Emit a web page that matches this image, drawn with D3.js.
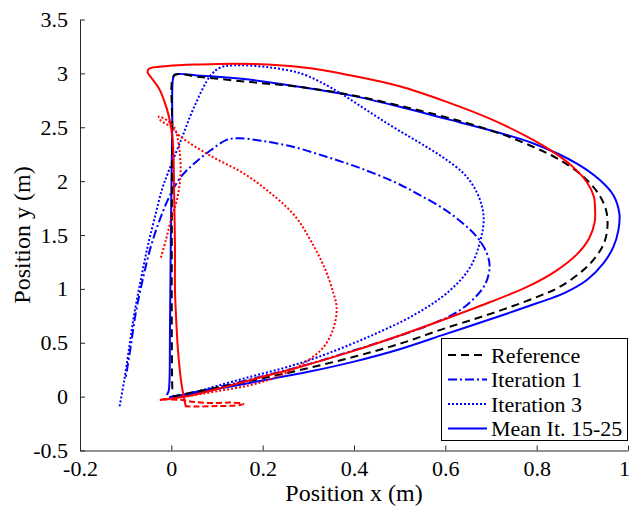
<!DOCTYPE html>
<html>
<head>
<meta charset="utf-8">
<script src="https://cdn.jsdelivr.net/npm/d3@7/dist/d3.min.js"></script>
<style>
  #chart text { font-family: 'Liberation Serif' !important; }
</style>
</head>
<body style="margin:0">
<svg id="chart" width="631" height="507"></svg>
<script>
// Axis ticks
const xTicks = [-0.2, 0, 0.2, 0.4, 0.6, 0.8, 1];
const yTicks = [-0.5, 0, 0.5, 1, 1.5, 2, 2.5, 3, 3.5];

// Reference trajectory (x, y) in metres
const reference = [
  [0.003, 0.0], [0.04, 0.035], [0.1, 0.085], [0.2, 0.17], [0.3, 0.265], [0.4, 0.37],
  [0.5, 0.49], [0.6, 0.635], [0.7, 0.77], [0.793, 0.912], [0.851, 1.02], [0.902, 1.174],
  [0.93, 1.3], [0.948, 1.43], [0.955, 1.576], [0.952, 1.73], [0.935, 1.885], [0.903, 2.039],
  [0.852, 2.194], [0.793, 2.317], [0.72, 2.441], [0.63, 2.56], [0.52, 2.68], [0.392, 2.8],
  [0.283, 2.873], [0.174, 2.919], [0.064, 2.966], [0.01, 2.99], [0.003, 2.96], [0.002, 2.5],
  [0.001, 1.5], [0.001, 0.6], [0.002, 0.1], [0.003, 0.02]
];

// Iteration 1
const iter1 = [
  [0.0, 0.0], [0.05, 0.04], [0.1, 0.085], [0.2, 0.19], [0.3, 0.3], [0.4, 0.43], [0.5, 0.565],
  [0.574, 0.68], [0.626, 0.785], [0.665, 0.92], [0.688, 1.05], [0.697, 1.205], [0.691, 1.329],
  [0.669, 1.483], [0.611, 1.7], [0.538, 1.885], [0.487, 1.995], [0.414, 2.12], [0.341, 2.224],
  [0.268, 2.317], [0.196, 2.375], [0.145, 2.398], [0.12, 2.38], [0.086, 2.286], [0.05, 2.163],
  [0.021, 2.039], [-0.001, 1.885], [-0.023, 1.668], [-0.045, 1.39], [-0.063, 1.08],
  [-0.078, 0.773], [-0.089, 0.463], [-0.096, 0.278], [-0.1, 0.17]
];

// Iteration 3
const iter3 = [
  [-0.005, -0.01], [0.05, 0.04], [0.1, 0.1], [0.174, 0.185], [0.25, 0.27], [0.32, 0.365],
  [0.429, 0.55], [0.538, 0.773], [0.611, 0.989], [0.655, 1.205], [0.677, 1.452], [0.684, 1.65],
  [0.678, 1.8], [0.662, 1.95], [0.638, 2.08], [0.595, 2.22], [0.55, 2.34], [0.506, 2.45],
  [0.46, 2.57], [0.42, 2.68], [0.38, 2.79], [0.34, 2.89], [0.283, 3.0], [0.21, 3.058],
  [0.137, 3.075], [0.108, 3.055], [0.086, 2.981], [0.05, 2.688], [0.021, 2.379],
  [-0.008, 2.07], [-0.02, 1.93], [-0.034, 1.7], [-0.052, 1.39], [-0.067, 1.08],
  [-0.081, 0.773], [-0.092, 0.463], [-0.103, 0.155], [-0.114, -0.107]
];

// Mean of iterations 15-25
const meanIt = [
  [-0.005, -0.005], [0.05, 0.03], [0.1, 0.07], [0.2, 0.15], [0.3, 0.23], [0.4, 0.325],
  [0.5, 0.44], [0.6, 0.58], [0.7, 0.72], [0.8, 0.866], [0.859, 0.958], [0.91, 1.082],
  [0.946, 1.236], [0.968, 1.39], [0.979, 1.545], [0.981, 1.7], [0.968, 1.869], [0.939, 2.008],
  [0.888, 2.163], [0.793, 2.349], [0.698, 2.472], [0.6, 2.58], [0.5, 2.69], [0.392, 2.796],
  [0.283, 2.873], [0.174, 2.94], [0.064, 2.978], [0.008, 2.99], [0.004, 2.96], [0.002, 2.5],
  [-0.001, 1.5], [-0.003, 0.6], [-0.004, 0.15], [-0.006, 0.05], [-0.01, 0.015]
];

// Second trajectory set (red)
const redSolid = [
  [-0.023, -0.03], [0.03, 0.0], [0.1, 0.07], [0.174, 0.155], [0.283, 0.278], [0.392, 0.415],
  [0.502, 0.57], [0.6, 0.72], [0.7, 0.88], [0.78, 1.02], [0.84, 1.16], [0.888, 1.32],
  [0.915, 1.47], [0.927, 1.62], [0.928, 1.73], [0.925, 1.86], [0.91, 1.99], [0.88, 2.13],
  [0.84, 2.26], [0.78, 2.41], [0.7, 2.575], [0.6, 2.74], [0.5, 2.88], [0.4, 2.975],
  [0.3, 3.05], [0.21, 3.083], [0.137, 3.09], [0.064, 3.083], [-0.008, 3.068],
  [-0.049, 3.043], [-0.052, 3.012], [-0.045, 2.966], [-0.027, 2.86], [-0.016, 2.75],
  [-0.005, 2.595], [0.003, 2.379], [0.006, 1.916], [0.008, 1.39], [0.008, 0.99],
  [0.01, 0.773], [0.014, 0.463], [0.021, 0.155], [0.028, -0.02], [0.032, -0.093]
];

const redDotted = [
  [-0.023, 1.29], [-0.012, 1.452], [-0.001, 1.638], [0.012, 1.823], [0.02, 2.05],
  [0.017, 2.317], [0.006, 2.502], [-0.008, 2.56], [-0.027, 2.6], [-0.025, 2.57],
  [0.0, 2.5], [0.021, 2.41], [0.086, 2.235], [0.159, 2.07], [0.22, 1.88], [0.27, 1.68],
  [0.305, 1.45], [0.335, 1.2], [0.355, 0.96], [0.362, 0.83],
  [0.356, 0.649], [0.334, 0.463], [0.29, 0.31], [0.232, 0.185], [0.174, 0.108],
  [0.1, 0.05], [0.03, 0.0], [-0.03, -0.035]
];

const redDashed = [
  [-0.02, -0.025], [0.02, -0.03], [0.05, -0.05], [0.09, -0.06], [0.13, -0.055],
  [0.158, -0.065], [0.15, -0.078], [0.1, -0.088], [0.05, -0.092], [0.03, -0.09]
];

const legendLabels = ["Reference", "Iteration 1", "Iteration 3", "Mean It. 15-25"];

const fontName = "Liberation Serif";
const svg = d3.select("#chart");

const x = d3.scaleLinear().domain([-0.2, 1]).range([80, 628]);
const y = d3.scaleLinear().domain([-0.5, 3.5]).range([450.5, 19.5]);

const line = d3.line()
  .x(d => x(d[0]))
  .y(d => y(d[1]))
  .curve(d3.curveCatmullRom.alpha(0.5));

const styles = {
  dashed: "8,5",
  dashdot: "9,3,2,3",
  dotted: "2,2",
  redDash: "6,3"
};

const series = [
  { data: iter1, color: "#0000ff", dash: styles.dashdot },
  { data: iter3, color: "#0000ff", dash: styles.dotted },
  { data: meanIt, color: "#0000ff", dash: null },
  { data: reference, color: "#000000", dash: styles.dashed },
  { data: redSolid, color: "#ff0000", dash: null },
  { data: redDotted, color: "#ff0000", dash: styles.dotted },
  { data: redDashed, color: "#ff0000", dash: styles.redDash }
];

const plot = svg.append("g");
series.forEach(s => {
  plot.append("path")
    .datum(s.data)
    .attr("d", line)
    .attr("fill", "none")
    .attr("stroke", s.color)
    .attr("stroke-width", 2)
    .attr("stroke-dasharray", s.dash)
    .attr("stroke-linejoin", "round");
});

// Axes (ticks point inward)
const xAxis = d3.axisBottom(x)
  .tickValues(xTicks)
  .tickFormat(d => String(d))
  .tickSizeInner(-5)
  .tickSizeOuter(0)
  .tickPadding(10);

const yAxis = d3.axisLeft(y)
  .tickValues(yTicks)
  .tickFormat(d => String(d))
  .tickSizeInner(-5)
  .tickSizeOuter(0)
  .tickPadding(12);

const gx = svg.append("g").attr("transform", "translate(0,450.5)").call(xAxis);
const gy = svg.append("g").attr("transform", "translate(80,0)").call(yAxis);

[gx, gy].forEach(g => {
  g.attr("font-family", fontName).attr("font-size", 22);
  g.select(".domain").attr("stroke", "#262626").attr("stroke-width", 1);
  g.selectAll(".tick line").attr("stroke", "#262626");
  g.selectAll(".tick text")
    .attr("fill", "#000")
    .style("font-family", fontName)
    .style("font-size", "22px");
});

// keep the last x label inside the canvas edge
gx.selectAll(".tick text").filter(d => d === 1).attr("dx", -4);

// Axis titles
svg.append("text")
  .attr("x", 354)
  .attr("y", 501)
  .attr("text-anchor", "middle")
  .style("font-family", fontName)
  .style("font-size", "24px")
  .text("Position x (m)");

svg.append("text")
  .attr("transform", "translate(30,235) rotate(-90)")
  .attr("text-anchor", "middle")
  .style("font-family", fontName)
  .style("font-size", "24px")
  .text("Position y (m)");

// Legend
const legend = svg.append("g");
legend.append("rect")
  .attr("x", 441.5).attr("y", 338.5)
  .attr("width", 186).attr("height", 102)
  .attr("fill", "#fff")
  .attr("stroke", "#000")
  .attr("stroke-width", 1);

const legendStyles = [
  { color: "#000000", dash: styles.dashed },
  { color: "#0000ff", dash: styles.dashdot },
  { color: "#0000ff", dash: styles.dotted },
  { color: "#0000ff", dash: null }
];

legendLabels.forEach((label, i) => {
  const ly = 355 + i * 24.5;
  legend.append("line")
    .attr("x1", 448).attr("x2", 487)
    .attr("y1", ly).attr("y2", ly)
    .attr("stroke", legendStyles[i].color)
    .attr("stroke-width", 2)
    .attr("stroke-dasharray", legendStyles[i].dash);
  legend.append("text")
    .attr("x", 491)
    .attr("y", ly + 7.5)
    .style("font-family", fontName)
    .style("font-size", "22px")
    .text(label);
});
</script>
</body>
</html>
